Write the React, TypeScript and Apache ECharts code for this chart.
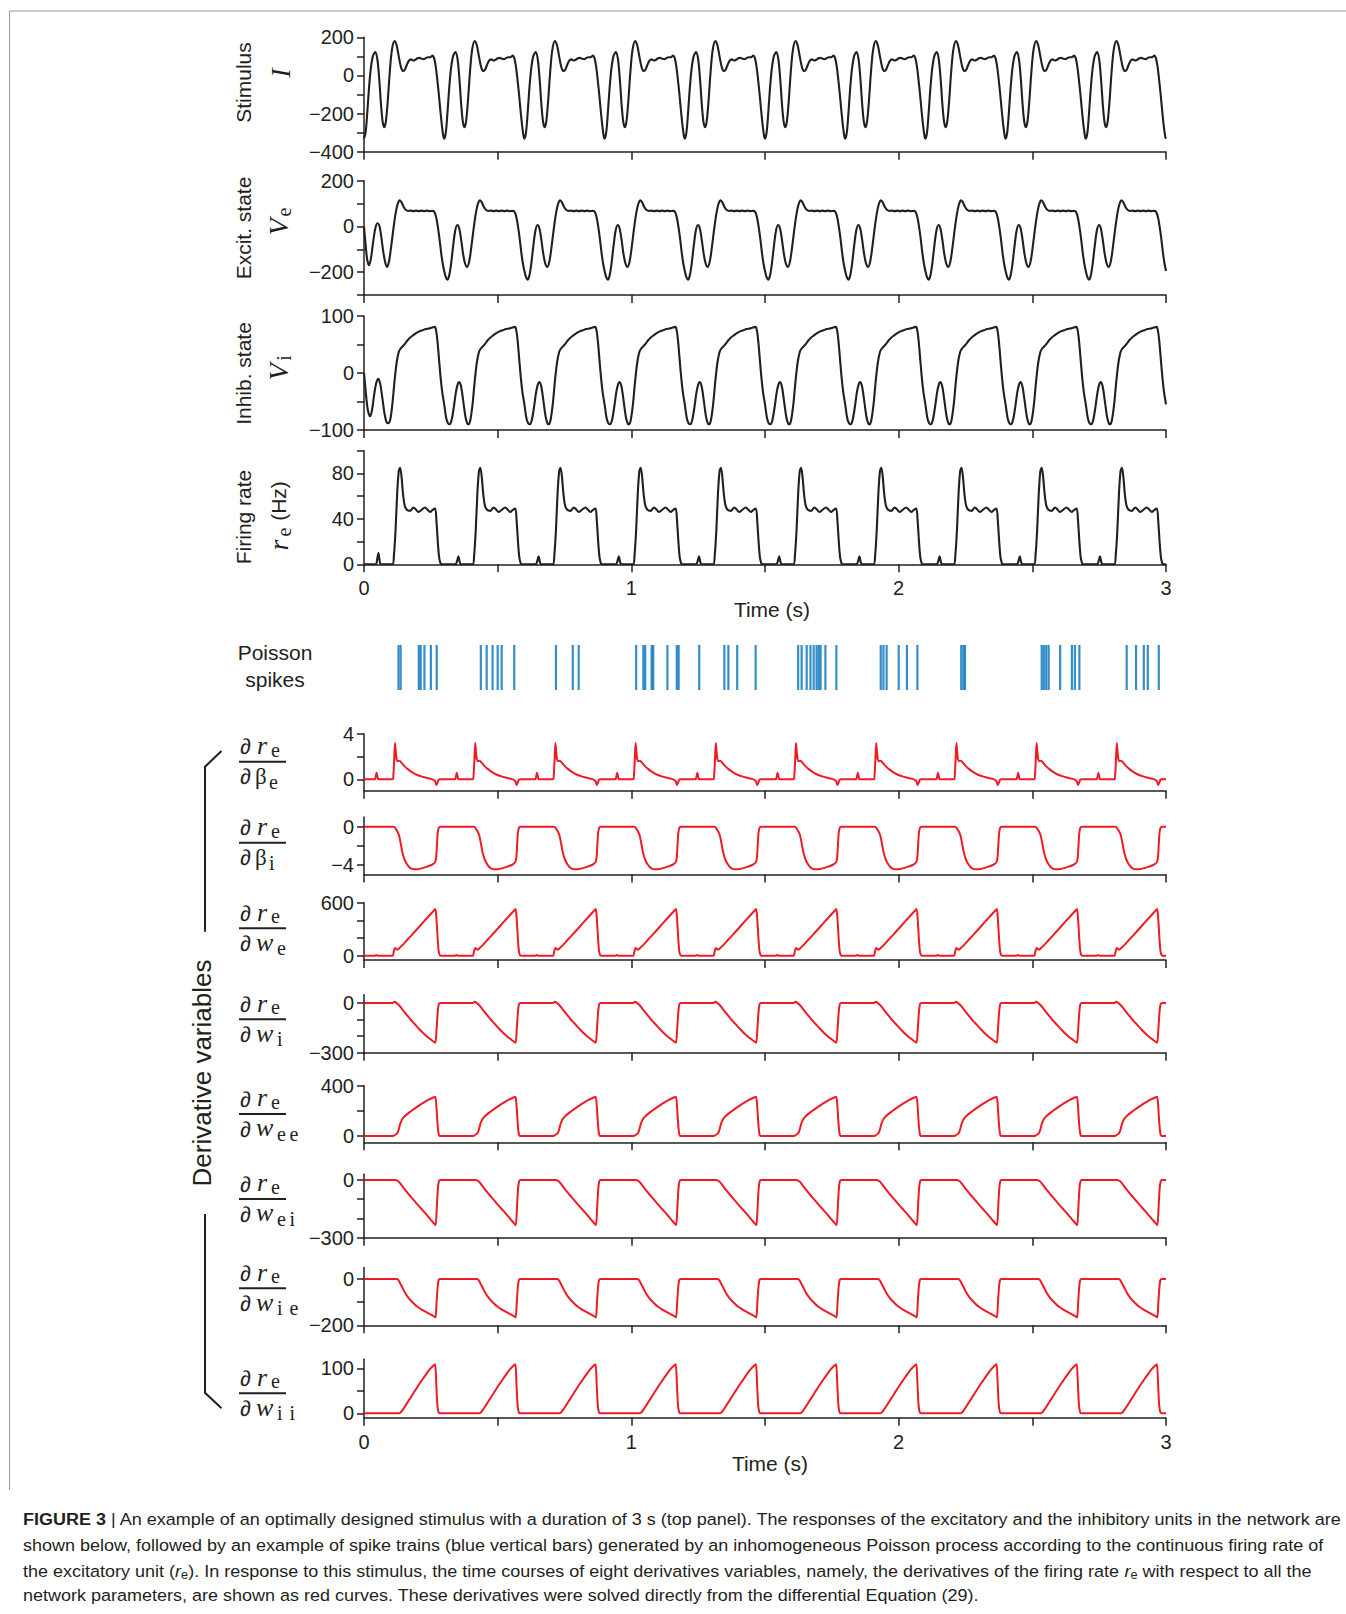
import React, { useEffect, useRef } from "react";
import * as echarts from "echarts";

type Pt = [number, number];

const PERIOD = 0.3;
const CYCLES = 10;
const T_END = 3;

// ---- one stimulus cycle (t in s within cycle, value) ----
const stimulusCycle: Pt[] = [
  [0.0, -332], [0.006, -300], [0.012, -200], [0.018, -80], [0.025, 30], [0.033, 100],
  [0.042, 122], [0.05, 85], [0.057, -20], [0.064, -160], [0.07, -245], [0.076, -272],
  [0.082, -240], [0.089, -130], [0.096, 10], [0.104, 130], [0.114, 180], [0.122, 158],
  [0.13, 100], [0.138, 45], [0.145, 24], [0.152, 28], [0.16, 55], [0.168, 78],
  [0.176, 84], [0.184, 78], [0.192, 82], [0.2, 90], [0.208, 92], [0.216, 87],
  [0.224, 85], [0.232, 92], [0.24, 95], [0.248, 95], [0.256, 104], [0.262, 92],
  [0.268, 50], [0.274, -20], [0.28, -100], [0.286, -190], [0.292, -270], [0.297, -320],
];

// ---- excitatory state Ve ----
const excitFirst: Pt[] = [
  [0.0, 0], [0.006, -80], [0.012, -145], [0.019, -170], [0.026, -140], [0.034, -70],
  [0.042, -10], [0.05, 14], [0.057, 5], [0.064, -40], [0.072, -110], [0.08, -160], [0.087, -177],
];
const excitCycle: Pt[] = [
  [0.0, -195], [0.006, -222], [0.012, -233], [0.018, -218], [0.025, -170], [0.033, -90],
  [0.041, -20], [0.049, 6], [0.056, -8], [0.063, -55], [0.07, -115], [0.078, -162],
  [0.086, -177], [0.094, -150], [0.102, -85], [0.11, -10], [0.118, 55], [0.126, 98],
  [0.134, 114], [0.141, 104], [0.148, 86], [0.156, 73], [0.165, 68], [0.175, 69],
  [0.185, 67], [0.195, 69], [0.205, 67], [0.215, 69], [0.225, 67], [0.235, 69],
  [0.245, 67], [0.255, 68], [0.263, 64], [0.27, 40], [0.276, 0], [0.282, -50],
  [0.288, -110], [0.294, -160],
];

// ---- inhibitory state Vi ----
const inhibFirst: Pt[] = [
  [0.0, 0], [0.006, -30], [0.012, -58], [0.018, -72], [0.023, -76], [0.03, -65],
  [0.038, -38], [0.046, -17], [0.054, -10], [0.061, -20], [0.069, -45], [0.077, -72],
  [0.084, -86], [0.09, -88],
];
const inhibCycle: Pt[] = [
  [0.0, -55], [0.007, -78], [0.014, -88], [0.021, -90], [0.028, -82], [0.036, -60],
  [0.044, -33], [0.051, -19], [0.057, -16], [0.064, -26], [0.072, -52], [0.08, -78],
  [0.087, -89], [0.092, -90], [0.098, -82], [0.106, -55], [0.114, -15], [0.122, 18],
  [0.13, 37], [0.137, 43], [0.145, 47], [0.153, 51], [0.162, 57], [0.172, 62],
  [0.183, 66], [0.195, 70], [0.207, 73], [0.219, 75], [0.231, 77], [0.243, 78],
  [0.255, 80], [0.265, 81], [0.27, 74], [0.275, 55], [0.281, 22], [0.287, -10], [0.293, -35],
];

// ---- firing rate re (Hz) ----
const rateFirst: Pt[] = [
  [0.0, 0], [0.044, 0], [0.049, 4], [0.054, 10], [0.058, 4], [0.063, 0],
];
const rateCycle: Pt[] = [
  [0.0, 0], [0.042, 0], [0.047, 2], [0.053, 7], [0.058, 2], [0.063, 0], [0.106, 0],
  [0.112, 8], [0.118, 30], [0.124, 62], [0.13, 82], [0.135, 85], [0.14, 78], [0.146, 62],
  [0.152, 52], [0.16, 48], [0.172, 47], [0.185, 50], [0.195, 48], [0.203, 46],
  [0.215, 48], [0.228, 50], [0.238, 48], [0.247, 46], [0.257, 48], [0.266, 49],
  [0.271, 38], [0.276, 20], [0.281, 6], [0.286, 1], [0.29, 0],
];

// ---- derivative variables (one cycle each) ----
const dBetaECycle: Pt[] = [
  [0.0, 0], [0.04, 0], [0.044, 0.25], [0.047, 0.58], [0.05, 0.3], [0.054, 0], [0.107, 0],
  [0.11, 0.4], [0.113, 1.8], [0.116, 3.2], [0.119, 2.4], [0.122, 1.75], [0.127, 1.6],
  [0.133, 1.65], [0.139, 1.5], [0.146, 1.3], [0.154, 1.1], [0.163, 0.92], [0.172, 0.75],
  [0.182, 0.6], [0.195, 0.43], [0.21, 0.3], [0.225, 0.18], [0.24, 0.1], [0.252, 0.04],
  [0.26, -0.05], [0.266, -0.15], [0.271, -0.5], [0.275, -0.3], [0.279, -0.05], [0.284, 0],
];
const dBetaICycle: Pt[] = [
  [0.0, 0], [0.112, 0], [0.118, -0.2], [0.125, -0.5], [0.131, -0.9], [0.137, -1.7],
  [0.143, -2.6], [0.15, -3.3], [0.158, -3.8], [0.167, -4.15], [0.177, -4.38], [0.188, -4.45],
  [0.2, -4.43], [0.215, -4.35], [0.23, -4.22], [0.245, -4.08], [0.258, -3.9], [0.266, -3.7],
  [0.27, -3.2], [0.273, -1.8], [0.276, -0.6], [0.28, -0.1], [0.285, 0],
];
const dWECycle: Pt[] = [
  [0.0, 0], [0.04, 0], [0.046, 8], [0.052, 0], [0.107, 0], [0.111, 40], [0.116, 88],
  [0.121, 75], [0.126, 68], [0.132, 85], [0.14, 108], [0.15, 140], [0.162, 180],
  [0.175, 222], [0.188, 265], [0.2, 305], [0.213, 350], [0.226, 395], [0.24, 440],
  [0.252, 480], [0.262, 512], [0.267, 528], [0.271, 420], [0.275, 220], [0.279, 60],
  [0.283, 8], [0.287, 0],
];
const dWICycle: Pt[] = [
  [0.0, 0], [0.108, 0], [0.113, 8], [0.118, 5], [0.125, -5], [0.131, -14], [0.138, -27],
  [0.145, -42], [0.153, -58], [0.162, -76], [0.171, -94], [0.18, -111], [0.19, -128],
  [0.2, -146], [0.21, -163], [0.22, -180], [0.23, -195], [0.24, -208], [0.25, -220],
  [0.26, -232], [0.267, -240], [0.271, -170], [0.275, -70], [0.279, -12], [0.284, 0],
];
const dWEECycle: Pt[] = [
  [0.0, 0], [0.108, 0], [0.114, 5], [0.12, 15], [0.126, 28], [0.131, 60], [0.136, 100],
  [0.142, 130], [0.15, 152], [0.16, 172], [0.172, 192], [0.185, 212], [0.198, 232],
  [0.212, 252], [0.226, 270], [0.24, 287], [0.253, 300], [0.262, 308], [0.267, 312],
  [0.271, 230], [0.275, 100], [0.279, 20], [0.284, 0],
];
const dWEICycle: Pt[] = [
  [0.0, 0], [0.118, 0], [0.124, -3], [0.131, -10], [0.141, -28], [0.153, -50], [0.166, -72],
  [0.178, -92], [0.191, -113], [0.203, -132], [0.216, -152], [0.229, -172], [0.241, -192],
  [0.253, -212], [0.263, -228], [0.268, -235], [0.272, -150], [0.276, -50], [0.28, -8], [0.285, 0],
];
const dWIECycle: Pt[] = [
  [0.0, 0], [0.122, 0], [0.128, -4], [0.135, -18], [0.144, -38], [0.153, -58], [0.163, -76],
  [0.175, -93], [0.188, -108], [0.2, -120], [0.213, -130], [0.228, -140], [0.244, -150],
  [0.257, -158], [0.267, -166], [0.271, -110], [0.275, -40], [0.279, -6], [0.284, 0],
];
const dWIICycle: Pt[] = [
  [0.0, 0], [0.13, 0], [0.137, 2], [0.145, 8], [0.155, 17], [0.17, 31], [0.185, 45],
  [0.2, 59], [0.215, 72], [0.23, 85], [0.245, 97], [0.258, 105], [0.266, 109], [0.27, 70],
  [0.274, 22], [0.278, 4], [0.283, 0],
];

// ---- Poisson spike times (s) ----
const spikeTimes: number[] = [
  0.129, 0.137, 0.205, 0.212, 0.226, 0.25, 0.272, 0.437, 0.459, 0.481, 0.5, 0.515, 0.562,
  0.718, 0.781, 0.803, 1.018, 1.045, 1.052, 1.076, 1.082, 1.135, 1.17, 1.177, 1.254, 1.348,
  1.363, 1.396, 1.465, 1.624, 1.637, 1.656, 1.67, 1.682, 1.693, 1.701, 1.708, 1.726, 1.767,
  1.933, 1.943, 1.955, 2.0, 2.031, 2.07, 2.234, 2.242, 2.248, 2.535, 2.543, 2.552, 2.561,
  2.604, 2.648, 2.659, 2.676, 2.853, 2.888, 2.917, 2.932, 2.973,
];

const captionLines: string[] = [
  "{b|FIGURE 3} | An example of an optimally designed stimulus with a duration of 3 s (top panel). The responses of the excitatory and the inhibitory units in the network are",
  "shown below, followed by an example of spike trains (blue vertical bars) generated by an inhomogeneous Poisson process according to the continuous firing rate of",
  "the excitatory unit ({i|r}{s|e}). In response to this stimulus, the time courses of eight derivatives variables, namely, the derivatives of the firing rate {i|r}{s|e} with respect to all the",
  "network parameters, are shown as red curves. These derivatives were solved directly from the differential Equation (29).",
];

function tile(cycle: Pt[], first?: Pt[]): Pt[] {
  const out: Pt[] = [];
  for (let k = 0; k < CYCLES; k++) {
    let pts = cycle;
    if (k === 0 && first) {
      const fe = first[first.length - 1][0];
      pts = first.concat(cycle.filter((p) => p[0] > fe + 0.004));
    }
    for (const [t, v] of pts) out.push([+(k * PERIOD + t).toFixed(4), v]);
  }
  out.push([T_END, cycle[0][1]]);
  return out;
}

const INK = "#231f20";
const RED = "#ed1c24";
const BLUE = "#0072bc";
const SANS = "Liberation Sans";
const SERIF = "Liberation Serif";
const LEFT = 364;
const WIDTH = 802;

const fmt = (v: number) => (v < 0 ? "\u2212" + Math.abs(v) : String(v));

function App() {
  const ref = useRef<HTMLDivElement>(null);
  useEffect(() => {
    if (!ref.current) return;
    const chart = echarts.init(ref.current, undefined, { renderer: "svg" });

    const topPanels = [
      { top: 37.3, height: 114.4, min: -400, max: 200, interval: 100, every: 200, data: tile(stimulusCycle) },
      { top: 180.7, height: 114.3, min: -300, max: 200, interval: 100, every: 200, data: tile(excitCycle, excitFirst) },
      { top: 316, height: 114, min: -100, max: 100, interval: 50, every: 100, data: tile(inhibCycle, inhibFirst) },
      { top: 450.7, height: 113.6, min: 0, max: 100, interval: 20, every: 40, data: tile(rateCycle, rateFirst), xl: true },
    ];
    const derivPanels = [
      { top: 734, height: 56.7, min: -1, max: 4, ticks: [0, 2, 4], labels: [0, 4], data: tile(dBetaECycle) },
      { top: 817.1, height: 57.5, min: -5, max: 1, ticks: [-4, -2, 0], labels: [-4, 0], data: tile(dBetaICycle) },
      { top: 902.7, height: 57.4, min: -50, max: 600, ticks: [0, 200, 400, 600], labels: [0, 600], data: tile(dWECycle) },
      { top: 994.7, height: 58, min: -300, max: 50, ticks: [-300, -200, -100, 0], labels: [-300, 0], data: tile(dWICycle) },
      { top: 1085.7, height: 56.6, min: -50, max: 400, ticks: [0, 200, 400], labels: [0, 400], data: tile(dWEECycle) },
      { top: 1174.2, height: 63.5, min: -300, max: 30, ticks: [-300, -200, -100, 0], labels: [-300, 0], data: tile(dWEICycle) },
      { top: 1267.4, height: 57.9, min: -200, max: 50, ticks: [-200, -100, 0], labels: [-200, 0], data: tile(dWIECycle) },
      { top: 1359.3, height: 58.5, min: -10, max: 120, ticks: [0, 50, 100], labels: [0, 100], data: tile(dWIICycle), xl: true },
    ];

    const grids: any[] = [];
    const xAxes: any[] = [];
    const yAxes: any[] = [];
    const series: any[] = [];
    const axisLine = { show: true, onZero: false, lineStyle: { color: INK, width: 1.5 } };
    const labelFont = { fontFamily: SANS, fontSize: 20, color: INK };

    const addX = (gi: number, showLabels: boolean) => {
      xAxes.push({
        gridIndex: gi, type: "value", min: 0, max: T_END, interval: 0.5,
        axisLine, splitLine: { show: false },
        axisTick: { show: true, inside: false, length: 8, lineStyle: { color: INK, width: 1.5 } },
        axisLabel: {
          show: showLabels, ...labelFont, margin: 14,
          formatter: (v: number) => (Math.abs(v - Math.round(v)) < 1e-6 ? String(Math.round(v)) : ""),
        },
      });
    };

    topPanels.forEach((p) => {
      const gi = grids.length;
      grids.push({ left: LEFT, width: WIDTH, top: p.top, height: p.height, outerBoundsMode: "none" });
      addX(gi, !!p.xl);
      yAxes.push({
        gridIndex: gi, type: "value", min: p.min, max: p.max, interval: p.interval,
        axisLine, splitLine: { show: false },
        axisTick: { show: true, inside: false, length: 7, lineStyle: { color: INK, width: 1.5 } },
        axisLabel: { ...labelFont, margin: 10, formatter: (v: number) => (v % p.every === 0 ? fmt(v) : "") },
      });
      series.push({
        type: "line", xAxisIndex: gi, yAxisIndex: gi, data: p.data, showSymbol: false, smooth: 0.3,
        lineStyle: { color: INK, width: 2.1 }, silent: true,
      });
    });

    // spike raster grid
    {
      const gi = grids.length;
      grids.push({ left: LEFT, width: WIDTH, top: 645, height: 45, outerBoundsMode: "none" });
      xAxes.push({ gridIndex: gi, type: "value", min: 0, max: T_END, show: false });
      yAxes.push({ gridIndex: gi, type: "value", min: 0, max: 1, show: false });
      series.push({
        type: "scatter", xAxisIndex: gi, yAxisIndex: gi, symbol: "rect", symbolSize: [2.2, 45],
        data: spikeTimes.map((t) => [t, 0.5]), itemStyle: { color: BLUE }, silent: true,
      });
    }

    derivPanels.forEach((p) => {
      const gi = grids.length;
      grids.push({ left: LEFT, width: WIDTH, top: p.top, height: p.height, outerBoundsMode: "none" });
      addX(gi, !!p.xl);
      yAxes.push({
        gridIndex: gi, type: "value", min: p.min, max: p.max,
        axisLine, splitLine: { show: false },
        axisTick: { show: true, inside: false, length: 7, customValues: p.ticks, lineStyle: { color: INK, width: 1.5 } },
        axisLabel: {
          ...labelFont, margin: 10, customValues: p.labels,
          formatter: (v: number) => (p.labels.indexOf(v) >= 0 ? fmt(v) : ""),
        },
      });
      series.push({
        type: "line", xAxisIndex: gi, yAxisIndex: gi, data: p.data, showSymbol: false, smooth: 0.25,
        lineStyle: { color: RED, width: 2 }, silent: true,
      });
    });

    // ---------- graphic texts ----------
    const g: any[] = [];
    const txt = (x: number, y: number, text: string, o: any = {}) => ({
      type: "text", x, y,
      style: {
        text, fill: INK, fontFamily: o.family || SANS, fontSize: o.size || 21,
        fontStyle: o.italic ? "italic" : "normal", align: o.align || "center", verticalAlign: "middle",
      },
    });
    const rot = (x: number, y: number, children: any[]) => ({ type: "group", x, y, rotation: Math.PI / 2, children });

    g.push(rot(243, 82.5, [txt(0, 0, "Stimulus")]));
    g.push(rot(280, 73, [txt(0, 0, "I", { family: SERIF, italic: true, size: 28 })]));
    g.push(rot(243, 228, [txt(0, 0, "Excit. state")]));
    g.push(rot(278, 222, [txt(-5, 0, "V", { family: SERIF, italic: true, size: 28 }), txt(10, 6, "e", { family: SERIF, size: 20 })]));
    g.push(rot(243, 373.5, [txt(0, 0, "Inhib. state")]));
    g.push(rot(278, 367, [txt(-5, 0, "V", { family: SERIF, italic: true, size: 28 }), txt(9, 6, "i", { family: SERIF, size: 20 })]));
    g.push(rot(243, 517, [txt(0, 0, "Firing rate")]));
    g.push(rot(278, 517, [
      txt(-28, 0, "r", { family: SERIF, italic: true, size: 28 }),
      txt(-15, 6, "e", { family: SERIF, size: 20 }),
      txt(16, 0, "(Hz)"),
    ]));
    g.push(txt(772, 609, "Time (s)"));
    g.push(txt(770, 1463, "Time (s)"));
    g.push(txt(275, 652, "Poisson"));
    g.push(txt(275, 679, "spikes"));
    g.push(rot(202, 1073, [txt(0, 0, "Derivative variables", { size: 26 })]));

    // bracket
    g.push({ type: "polyline", shape: { points: [[221.5, 751], [205, 766.7], [205, 931.7]] }, style: { stroke: INK, lineWidth: 2, fill: null } });
    g.push({ type: "polyline", shape: { points: [[205, 1214], [205, 1392.7], [221.5, 1408.3]] }, style: { stroke: INK, lineWidth: 2, fill: null } });

    // fraction labels
    const frac = (barY: number, den: string, denItalic: boolean, subs: string[]) => {
      const nb = barY - 7.5; // numerator baseline
      const db = barY + 22.5; // denominator baseline
      const mid = (b: number, fs: number) => b - 0.33 * fs;
      const els: any[] = [];
      els.push(txt(240, mid(nb, 22), "\u2202", { align: "left", size: 22 }));
      els.push(txt(257, mid(nb, 26), "r", { align: "left", family: SERIF, italic: true, size: 26 }));
      els.push(txt(271, mid(nb + 2, 20), "e", { align: "left", family: SERIF, size: 20 }));
      els.push({ type: "line", shape: { x1: 239, y1: barY, x2: 286, y2: barY }, style: { stroke: INK, lineWidth: 2 } });
      els.push(txt(240, mid(db, 22), "\u2202", { align: "left", size: 22 }));
      if (denItalic) {
        els.push(txt(256, mid(db, 26), den, { align: "left", family: SERIF, italic: true, size: 26 }));
        subs.forEach((s, i) => els.push(txt(277 + i * 12.5, mid(db + 4, 20), s, { align: "left", family: SERIF, size: 20 })));
      } else {
        els.push(txt(255, mid(db, 23), den, { align: "left", family: SERIF, size: 23 }));
        subs.forEach((s, i) => els.push(txt(269 + i * 12.5, mid(db + 4, 20), s, { align: "left", family: SERIF, size: 20 })));
      }
      return els;
    };
    g.push(...frac(761.7, "\u03b2", false, ["e"]));
    g.push(...frac(842.7, "\u03b2", false, ["i"]));
    g.push(...frac(928.3, "w", true, ["e"]));
    g.push(...frac(1019.3, "w", true, ["i"]));
    g.push(...frac(1114, "w", true, ["e", "e"]));
    g.push(...frac(1199, "w", true, ["e", "i"]));
    g.push(...frac(1288.3, "w", true, ["i", "e"]));
    g.push(...frac(1393.3, "w", true, ["i", "i"]));

    // frame
    g.push({ type: "polyline", shape: { points: [[1346, 11], [9.5, 11], [9.5, 1490]] }, style: { stroke: "#9a9a9a", lineWidth: 1, fill: null } });

    // caption
    const capRich = {
      b: { fontWeight: "bold", fontFamily: SANS, fontSize: 17, fill: INK, lineHeight: 20 },
      i: { fontStyle: "italic", fontFamily: SANS, fontSize: 17, fill: INK, lineHeight: 20 },
      s: { fontFamily: SANS, fontSize: 12, fill: INK, lineHeight: 14, verticalAlign: "bottom" },
    };
    let capScale = 0.86;
    try {
      const probe = new (echarts.graphic as any).Text({
        style: { text: captionLines[0], fontFamily: SANS, fontSize: 17, lineHeight: 20, rich: capRich },
      });
      const w = probe.getBoundingRect().width;
      if (w > 0) capScale = 1319 / w;
    } catch (e) {
      /* keep default */
    }
    const capY = [1519, 1545, 1571, 1595];
    captionLines.forEach((line, i) => {
      g.push({
        type: "text", x: 23, y: capY[i], scaleX: capScale,
        style: {
          text: line, fill: INK, fontFamily: SANS, fontSize: 17, lineHeight: 20,
          align: "left", verticalAlign: "middle", rich: capRich,
        },
      });
    });

    chart.setOption({
      animation: false,
      backgroundColor: "#ffffff",
      grid: grids,
      xAxis: xAxes,
      yAxis: yAxes,
      series,
      graphic: { elements: g },
    });
    return () => chart.dispose();
  }, []);
  return (
    <div
      ref={ref}
      style={{ position: "absolute", left: 0, top: 0, width: 1346, height: 1614, background: "#fff" }}
    />
  );
}

export default App;
